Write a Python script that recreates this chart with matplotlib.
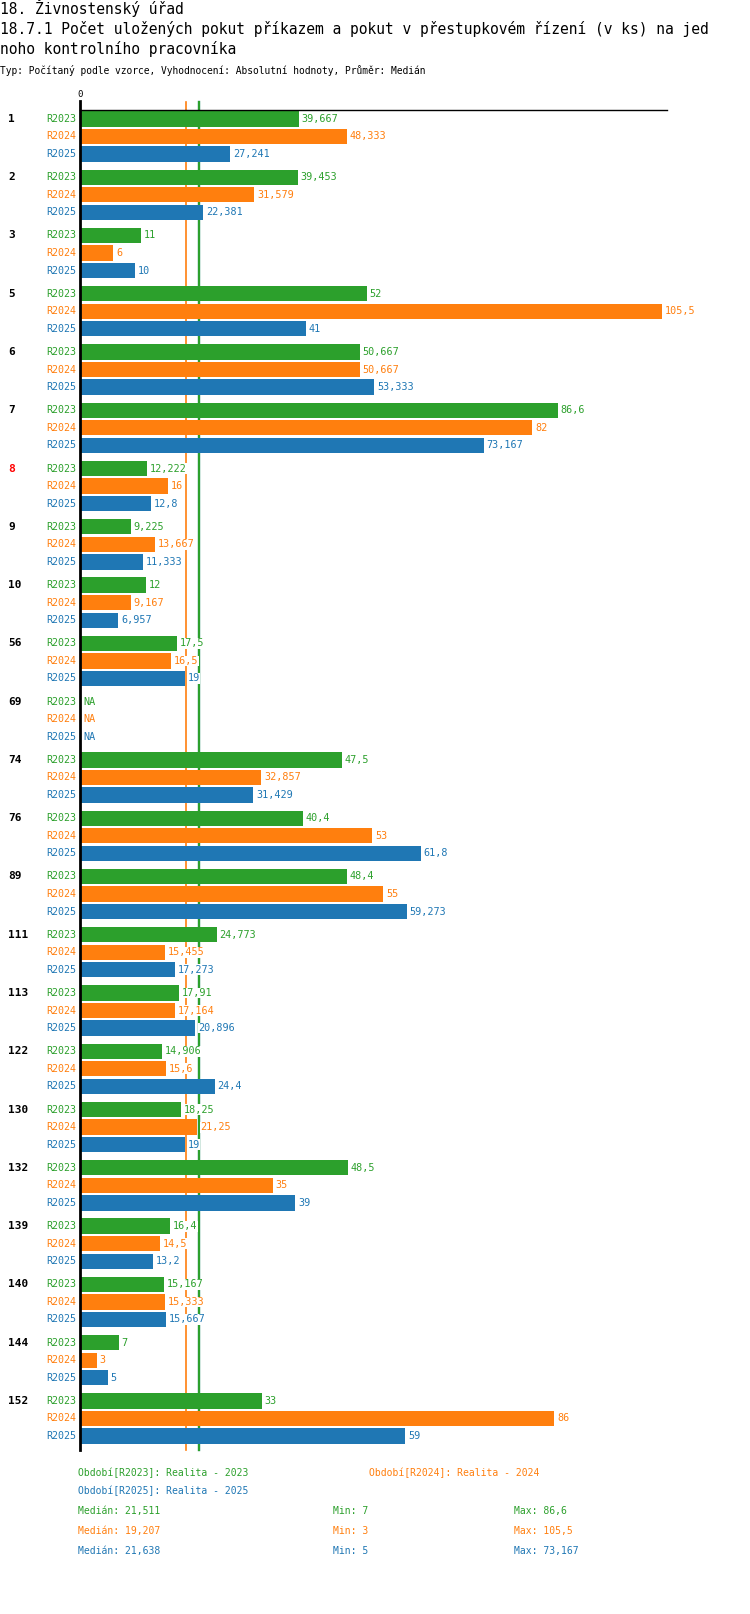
import matplotlib
matplotlib.use("Agg")
import matplotlib.pyplot as plt
import matplotlib.transforms as mtransforms
import numpy as np

# data
groups = ["1", "2", "3", "5", "6", "7", "8", "9", "10", "56", "69", "74", "76",
          "89", "111", "113", "122", "130", "132", "139", "140", "144", "152"]
highlight = ["8"]
series = ["R2023", "R2024", "R2025"]
series_names = ["Realita - 2023", "Realita - 2024", "Realita - 2025"]
r2023 = [39.667, 39.453, 11, 52, 50.667, 86.6, 12.222, 9.225, 12, 17.5, None, 47.5, 40.4,
         48.4, 24.773, 17.91, 14.906, 18.25, 48.5, 16.4, 15.167, 7, 33]
r2024 = [48.333, 31.579, 6, 105.5, 50.667, 82, 16, 13.667, 9.167, 16.5, None, 32.857, 53,
         55, 15.455, 17.164, 15.6, 21.25, 35, 14.5, 15.333, 3, 86]
r2025 = [27.241, 22.381, 10, 41, 53.333, 73.167, 12.8, 11.333, 6.957, 19, None, 31.429, 61.8,
         59.273, 17.273, 20.896, 24.4, 19, 39, 13.2, 15.667, 5, 59]
medians = [21.511, 19.207, 21.638]
mins = [7, 3, 5]
maxs = [86.6, 105.5, 73.167]
colors = ["#2ca02c", "#ff7f0e", "#1f77b4"]

W, H = 750, 1614
FONT = "DejaVu Sans Mono"
plt.rcParams['font.family'] = [FONT, 'DejaVu Sans']


def fmt(v):
    s = f"{v:.3f}".rstrip('0').rstrip('.')
    return s.replace('.', ',')


def fx(x):
    return x / W


def fy(y):
    return 1 - y / H


fig = plt.figure(figsize=(W / 100, H / 100), dpi=100)
ax = fig.add_axes([fx(80), fy(1450), fx(667) - fx(80), (1450 - 110) / H])

group_step = 58.2 / 17.5
values = [r2023, r2024, r2025]

# median lines behind bars
for k in [2, 1, 0]:
    ax.axvline(medians[k], ymin=0, ymax=1.006, color=colors[k],
               lw=1.2 if k == 1 else 1.6, zorder=1, clip_on=False)

for i, g in enumerate(groups):
    base = i * group_step
    for j in range(3):
        y = base + j
        v = values[j][i]
        if v is not None:
            ax.barh(y, v, height=0.87, color=colors[j], zorder=2)
            ax.annotate(fmt(v), xy=(v, y), xytext=(2, 0), textcoords="offset points",
                        ha="left", va="center", color=colors[j], fontsize=7.3, zorder=3,
                        bbox=dict(facecolor="white", edgecolor="none", pad=0.3))
        else:
            ax.annotate("NA", xy=(0, y), xytext=(2.5, 0), textcoords="offset points",
                        ha="left", va="center", color=colors[j], fontsize=7.3, zorder=3)
        ax.annotate(series[j], xy=(0, y), xycoords=("axes fraction", "data"),
                    xytext=(-2.5, 0), textcoords="offset points",
                    ha="right", va="center", color=colors[j], fontsize=7.2)
    trans = mtransforms.blended_transform_factory(fig.transFigure, ax.transData)
    ax.text(fx(8), base, g, transform=trans, ha="left", va="center",
            fontsize=8, fontweight="bold",
            color="red" if g in highlight else "black")

ymax = (len(groups) - 1) * group_step + 2 + 0.8
ax.set_ylim(ymax, -0.51)
ax.set_xlim(0, 106.4)

ax.set_xticks([])
ax.set_yticks([])
for s in ["right", "bottom", "left"]:
    ax.spines[s].set_visible(False)
ax.spines["top"].set_linewidth(1)
ax.plot([0, 0], [0, 1.007], transform=ax.transAxes, color="black", lw=2,
        clip_on=False, zorder=4)
ax.text(0, 1.008, "0", transform=ax.transAxes, ha="center", va="bottom", fontsize=6.5)

# titles
fig.text(0, fy(8), "18. Živnostenský úřad", ha="left", va="center", fontsize=10.5)
fig.text(0, fy(29), "18.7.1 Počet uložených pokut příkazem a pokut v přestupkovém řízení (v ks) na jed",
         ha="left", va="center", fontsize=10.5)
fig.text(0, fy(49), "noho kontrolního pracovníka", ha="left", va="center", fontsize=10.5)
fig.text(0, fy(71), "Typ: Počítaný podle vzorce, Vyhodnocení: Absolutní hodnoty, Průměr: Medián",
         ha="left", va="center", fontsize=6.9)

# legend
leg_pos = [(78, 1473), (369, 1473), (78, 1491)]
for k in range(3):
    x, y = leg_pos[k]
    fig.text(fx(x), fy(y), f"Období[{series[k]}]: {series_names[k]}", ha="left",
             va="center", fontsize=7, color=colors[k])
for k in range(3):
    y = 1511 + 20 * k
    fig.text(fx(78), fy(y), f"Medián: {fmt(medians[k])}", ha="left", va="center",
             fontsize=7, color=colors[k])
    fig.text(fx(333), fy(y), f"Min: {fmt(mins[k])}", ha="left", va="center",
             fontsize=7, color=colors[k])
    fig.text(fx(514), fy(y), f"Max: {fmt(maxs[k])}", ha="left", va="center",
             fontsize=7, color=colors[k])

fig.savefig("out.png", dpi=100)
